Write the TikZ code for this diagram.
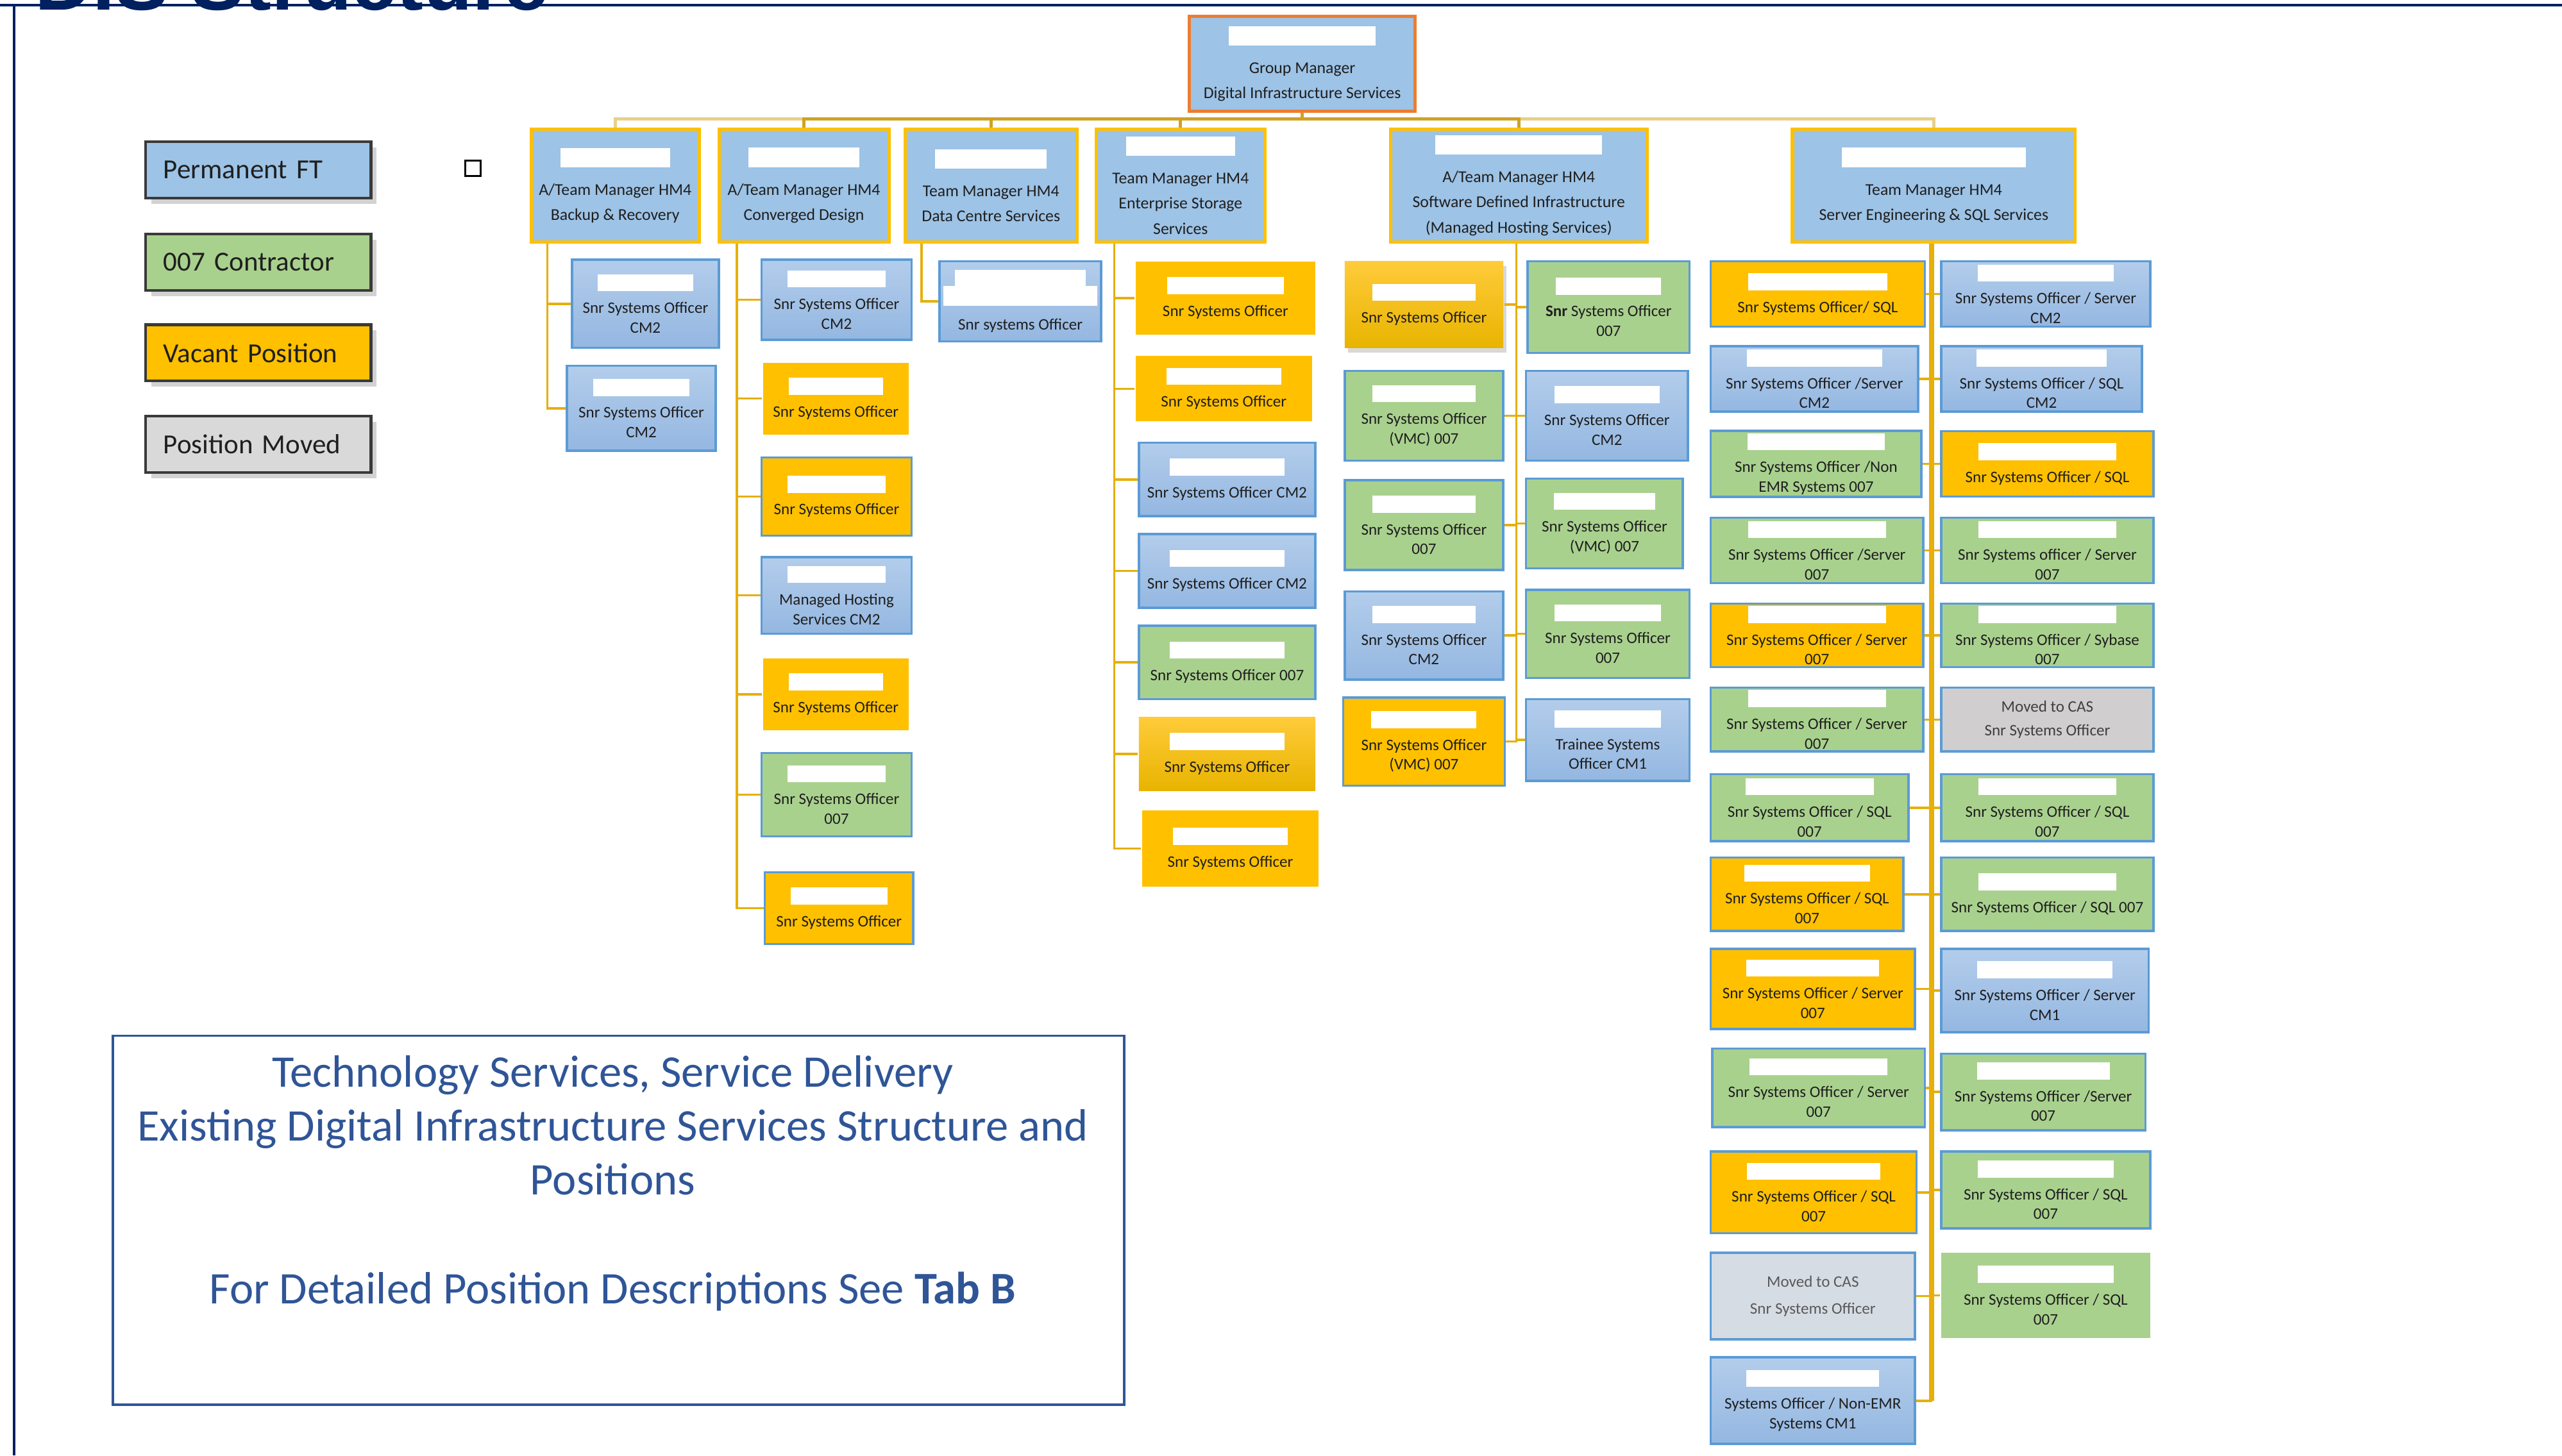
\documentclass[tikz,border=0pt]{standalone}
\usepackage{fontspec}
\setmainfont{Carlito}
\newfontfamily\titlefont{Liberation Sans}
\usetikzlibrary{shadows}
\definecolor{cnavy}{HTML}{002060}
\definecolor{cmblue}{HTML}{9DC3E6}
\definecolor{cbtop}{HTML}{B3CDEB}
\definecolor{cbbot}{HTML}{94B7E1}
\definecolor{cbline}{HTML}{5B9BD5}
\definecolor{cgreen}{HTML}{A9D18E}
\definecolor{cvac}{HTML}{FFC000}
\definecolor{cvtop}{HTML}{FFCB3A}
\definecolor{cvbot}{HTML}{E8B400}
\definecolor{cgray}{HTML}{D0CECE}
\definecolor{cgray2}{HTML}{D6DCE4}
\definecolor{clgray}{HTML}{D9D9D9}
\definecolor{corange}{HTML}{ED7D31}
\definecolor{cconn}{HTML}{E6AF0A}
\definecolor{cbarl}{HTML}{E8D08A}
\definecolor{cbard}{HTML}{CFA224}
\definecolor{cinfo}{HTML}{2F5597}
\definecolor{ctxt}{HTML}{1F1F1F}
\definecolor{clegend}{HTML}{3A3A3A}
\newdimen\pxu \pxu=0.025cm
\def\redh{0.26cm}
\newcommand\bx[7]{\node[#6, minimum width={(#4-#2)*0.025cm}, minimum height={(#5-#3)*0.025cm}] (#1) at ({(#2+#4)/2},{(#3+#5)/2}) {\textcolor{white}{\rule{\dimexpr\pxu*(#4-#2)*13/20\relax}{\redh}}\\[1pt]#7};}
\newcommand\bxn[7]{\node[#6, minimum width={(#4-#2)*0.025cm}, minimum height={(#5-#3)*0.025cm}] (#1) at ({(#2+#4)/2},{(#3+#5)/2}) {#7};}
\begin{document}
\begin{tikzpicture}[x=0.025cm, y=-0.025cm,
  box/.style={inner sep=1pt, align=center, text=ctxt, font=\fontsize{7}{8.6}\selectfont, line width=1pt},
  mgr/.style={box, fill=cmblue, draw=cvac, line width=1.4pt, font=\fontsize{7.2}{11}\selectfont, execute at begin node={\def\redh{0.3cm}}},
  gmst/.style={mgr, draw=corange},
  pb/.style={box, top color=cbtop, bottom color=cbbot, draw=cbline},
  pg/.style={box, fill=cgreen, draw=cbline},
  pgn/.style={box, fill=cgreen},
  vacb/.style={box, fill=cvac, draw=cbline},
  vacn/.style={box, fill=cvac},
  vacg/.style={box, top color=cvtop, bottom color=cvbot},
  mvd/.style={box, fill=cgray, draw=cbline, text=black!75},
  mvdb/.style={box, fill=cgray2, draw=cbline, text=black!65},
  ln/.style={draw=cconn, line width=1pt},
  trunkw/.style={draw=cconn, line width=2.2pt},
  barlt/.style={draw=cbarl, line width=1.4pt},
  bardk/.style={draw=cbard, line width=1.4pt},
  legend/.style={draw=clegend, line width=1.2pt, minimum width=3.45cm, minimum height=0.86cm, text width=2.9cm, align=left, inner xsep=0.275cm, font=\fontsize{12}{14}\selectfont, text=ctxt, drop shadow={opacity=0.35, shadow xshift=2.5pt, shadow yshift=-2.5pt}}
]
\useasboundingbox (0,0) rectangle (1568,891);
\fill[white] (0,0) rectangle (1568,891);
% frame
\coordinate (fa) at (0,3); \coordinate (fb) at (1568,3);
\coordinate (fc) at (8.7,3); \coordinate (fd) at (8.7,891);
\draw[cnavy, line width=1.1pt] (fa) -- (fb);
\draw[cnavy, line width=1pt] (fc) -- (fd);
\node[anchor=base west, inner sep=0, text=cnavy, font=\titlefont\bfseries\fontsize{35}{35}\selectfont] (title) at (21,6) {DIS Structure};

% legend
\node[legend, fill=cmblue] (lg1) at (158,104) {Permanent FT};
\node[legend, fill=cgreen] (lg2) at (158,160.5) {007 Contractor};
\node[legend, fill=cvac] (lg3) at (158,216) {Vacant Position};
\node[legend, fill=clgray] (lg4) at (158,272) {Position Moved};
\node[draw=black, fill=white, line width=0.8pt, minimum size=0.24cm, inner sep=0] (sq) at (289.5,103) {};

% info box
\node[draw=cinfo, line width=1pt, minimum width={619*0.025cm}, minimum height={226*0.025cm}] (info) at (378.5,747) {};
\node[anchor=north, align=center, inner sep=0, text=cinfo, font=\fontsize{19.7}{23.4}\selectfont] (infotext) at (375,646) {Technology Services, Service Delivery\\Existing Digital Infrastructure Services Structure and\\Positions\\[24pt]For Detailed Position Descriptions See \textbf{Tab B}};

% top
\bx{gm}{728}{10}{866}{68}{gmst}{Group Manager\\Digital Infrastructure Services}
\bx{m1}{325}{79}{428}{148}{mgr}{A/Team Manager HM4\\Backup \& Recovery}
\bx{m2}{440}{79}{544}{148}{mgr}{A/Team Manager HM4\\Converged Design}
\bx{m3}{554}{79}{659}{148}{mgr}{Team Manager HM4\\Data Centre Services}
\bx{m4}{671}{79}{774}{148}{mgr}{Team Manager HM4\\Enterprise Storage\\Services}
\bx{m5}{851}{79}{1008}{148}{mgr}{A/Team Manager HM4\\Software Defined Infrastructure\\(Managed Hosting Services)}
\bx{m6}{1097}{79}{1270}{148}{mgr}{Team Manager HM4\\Server Engineering \& SQL Services}

% column 1
\bx{a1}{350}{159}{440}{213}{pb}{Snr Systems Officer\\CM2}
\bx{a2}{347}{224}{438}{276}{pb}{Snr Systems Officer\\CM2}
% column 2
\bx{b1}{466}{159}{558}{208}{pb}{Snr Systems Officer\\CM2}
\bx{b2}{467}{222}{556}{266}{vacn}{Snr Systems Officer}
\bx{b3}{466}{280}{558}{328}{vacb}{Snr Systems Officer}
\bx{b4}{466}{341}{558}{388}{pb}{Managed Hosting\\Services CM2}
\bx{b5}{467}{403}{556}{447}{vacn}{Snr Systems Officer}
\bx{b6}{466}{461}{558}{512}{pg}{Snr Systems Officer\\007}
\bx{b7}{468}{534}{559}{578}{vacb}{Snr Systems Officer}
% column 3
\bxn{c1}{575}{160}{674}{209}{pb}{\textcolor{white}{\rule{2cm}{0.28cm}}\\[-1pt]\textcolor{white}{\rule{2.35cm}{0.3cm}}\\[2pt]Snr systems Officer}
% column 4
\bx{d1}{695}{160}{805}{205}{vacn}{Snr Systems Officer}
\bx{d2}{695}{218}{803}{258}{vacn}{Snr Systems Officer}
\bx{d3}{697}{271}{805}{316}{pb}{Snr Systems Officer CM2}
\bx{d4}{697}{327}{805}{372}{pb}{Snr Systems Officer CM2}
\bx{d5}{697}{383}{805}{428}{pg}{Snr Systems Officer 007}
\bx{d6}{697}{439}{805}{484}{vacg}{Snr Systems Officer}
\bx{d7}{699}{496}{807}{543}{vacn}{Snr Systems Officer}
% column 5
\bx{e1}{823}{160}{920}{213}{vacg, drop shadow={opacity=0.3, shadow xshift=1.5pt, shadow yshift=-2pt}}{Snr Systems Officer}
\bx{e2}{823}{227}{920}{282}{pg}{Snr Systems Officer\\(VMC) 007}
\bx{e3}{823}{294}{920}{349}{pg}{Snr Systems Officer\\007}
\bx{e4}{823}{362}{920}{416}{pb}{Snr Systems Officer\\CM2}
\bx{e5}{822}{427}{921}{481}{vacb}{Snr Systems Officer\\(VMC) 007}
\bx{f1}{935}{160}{1034}{216}{pg}{\textbf{Snr} Systems Officer\\007}
\bx{f2}{934}{227}{1033}{282}{pb}{Snr Systems Officer\\CM2}
\bx{f3}{934}{293}{1030}{348}{pg}{Snr Systems Officer\\(VMC) 007}
\bx{f4}{934}{361}{1034}{415}{pg}{Snr Systems Officer\\007}
\bx{f5}{934}{428}{1034}{478}{pb}{Trainee Systems\\Officer CM1}
% column 6
\bx{s1l}{1047}{160}{1178}{200}{vacb}{Snr Systems Officer/ SQL}
\bx{s1r}{1188}{160}{1316}{200}{pb}{Snr Systems Officer / Server\\CM2}
\bx{s2l}{1047}{212}{1174}{252}{pb}{Snr Systems Officer /Server\\CM2}
\bx{s2r}{1188}{212}{1311}{252}{pb}{Snr Systems Officer / SQL\\CM2}
\bx{s3l}{1047}{264}{1176}{304}{pg}{Snr Systems Officer /Non\\EMR Systems 007}
\bx{s3r}{1188}{264}{1318}{304}{vacb}{Snr Systems Officer / SQL}
\bx{s4l}{1047}{317}{1177}{357}{pg}{Snr Systems Officer /Server\\007}
\bx{s4r}{1188}{317}{1318}{357}{pg}{Snr Systems officer / Server\\007}
\bx{s5l}{1047}{370}{1177}{408}{vacb}{Snr Systems Officer / Server\\007}
\bx{s5r}{1188}{370}{1318}{408}{pg}{Snr Systems Officer / Sybase\\007}
\bx{s6l}{1047}{421}{1177}{460}{pg}{Snr Systems Officer / Server\\007}
\bxn{s6r}{1188}{421}{1318}{460}{mvd}{Moved to CAS\\[2pt]Snr Systems Officer}
\bx{s7l}{1047}{474}{1168}{515}{pg}{Snr Systems Officer / SQL\\007}
\bx{s7r}{1188}{474}{1318}{515}{pg}{Snr Systems Officer / SQL\\007}
\bx{s8l}{1047}{525}{1165}{570}{vacb}{Snr Systems Officer / SQL\\007}
\bx{s8r}{1188}{525}{1318}{570}{pg}{Snr Systems Officer / SQL 007}
\bx{s9l}{1047}{581}{1172}{630}{vacb}{Snr Systems Officer / Server\\007}
\bx{s9r}{1188}{581}{1315}{632}{pb}{Snr Systems Officer / Server\\CM1}
\bx{s10l}{1048}{642}{1178}{690}{pg}{Snr Systems Officer / Server\\007}
\bx{s10r}{1188}{645}{1313}{692}{pg}{Snr Systems Officer /Server\\007}
\bx{s11l}{1047}{705}{1173}{755}{vacb}{Snr Systems Officer / SQL\\007}
\bx{s11r}{1188}{705}{1316}{752}{pg}{Snr Systems Officer / SQL\\007}
\bxn{s12l}{1047}{767}{1172}{820}{mvdb}{Moved to CAS\\[3pt]Snr Systems Officer}
\bx{s12r}{1188}{767}{1316}{819}{pgn}{Snr Systems Officer / SQL\\007}
\bx{s13l}{1047}{831}{1172}{884}{pb}{Systems Officer / Non-EMR\\Systems CM1}

% top bar
\coordinate (bar) at (0,73);
\draw[barlt] (gm.south) -- (gm.south |- bar) -| (m1.north);
\draw[barlt] (gm.south) -- (gm.south |- bar) -| (m6.north);
\draw[bardk] (gm.south) -- (gm.south |- bar) -| (m2.north);
\draw[bardk] (gm.south) -- (gm.south |- bar) -| (m3.north);
\draw[bardk] (gm.south) -- (gm.south |- bar) -| (m4.north);
\draw[bardk] (gm.south) -- (gm.south |- bar) -| (m5.north);

% trunk x positions
\coordinate (k1) at (335,0);
\coordinate (k2) at (451,0);
\coordinate (k3) at (564,0);
\coordinate (k4) at (682,0);
\coordinate (k5) at (928,0);
\coordinate (k6) at (1182,0);

\foreach \c in {a1,a2} \draw[ln] (m1.south -| k1) |- (\c.west);
\foreach \c in {b1,b2,b3,b4,b5,b6,b7} \draw[ln] (m2.south -| k2) |- (\c.west);
\draw[ln] (m3.south -| k3) |- (c1.west);
\foreach \c in {d1,d2,d3,d4,d5,d6,d7} \draw[ln] (m4.south -| k4) |- (\c.west);
\foreach \c in {e1,e2,e3,e4,e5} \draw[ln] (m5.south -| k5) |- (\c.east);
\foreach \c in {f1,f2,f3,f4,f5} \draw[ln] (m5.south -| k5) |- (\c.west);
\draw[trunkw] (m6.south -| k6) -- (k6 |- s13l.east);
\foreach \c in {s1l,s2l,s3l,s4l,s5l,s6l,s7l,s8l,s9l,s10l,s11l,s12l,s13l} \draw[ln] (m6.south -| k6) |- (\c.east);
\foreach \c in {s1r,s2r,s3r,s4r,s5r,s6r,s7r,s8r,s9r,s10r,s11r,s12r} \draw[ln] (m6.south -| k6) |- (\c.west);
\end{tikzpicture}
\end{document}
